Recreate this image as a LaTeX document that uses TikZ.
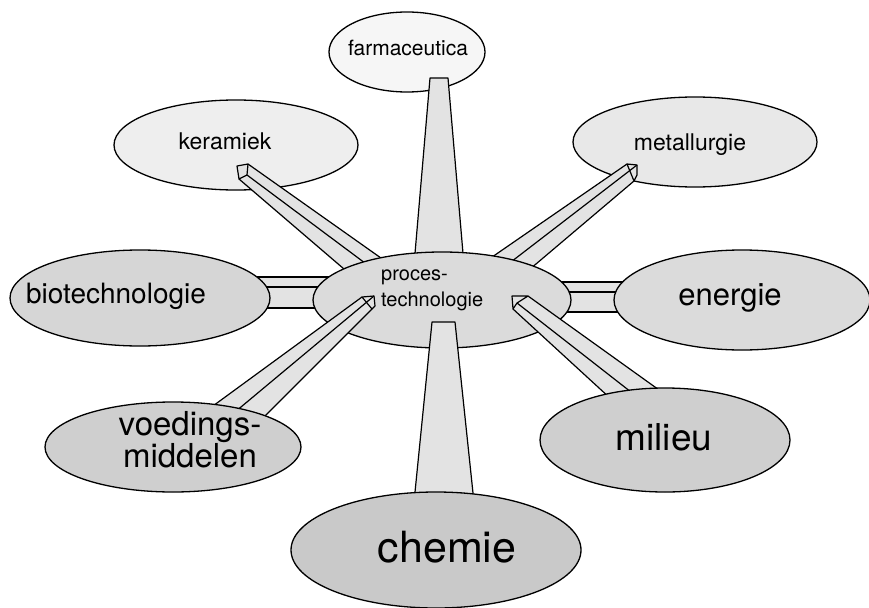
\documentclass[tikz,border=0pt]{standalone}
\usepackage{fontspec}
\setmainfont{TeX Gyre Heros}
\usetikzlibrary{shapes.geometric}
\begin{document}
\begin{tikzpicture}[x=1pt,y=-1pt,
  blob/.style={ellipse, draw=black, line width=1.3pt, inner sep=0pt},
  barface/.style={draw=black, line width=1.2pt, line join=round, fill=gray!22},
  barline/.style={draw=black, line width=1.2pt},
  lab/.style={inner sep=0pt, text=black}]
\useasboundingbox (0,0) rectangle (869,607);

% --- outer ellipses behind the bars (upper ring)
\node[blob, fill=gray!7,  minimum width=156pt, minimum height=80pt] (farma) at (407,52) {};
\node[blob, fill=gray!13, minimum width=244pt, minimum height=90pt] (kera) at (236,145) {};
\node[blob, fill=gray!18, minimum width=244pt, minimum height=90pt] (metal) at (695,142) {};

% --- bars whose far end hides behind the centre
% farmaceutica
\filldraw[barface] (430,78) -- (448,78) -- (464,265) -- (414,265) -- cycle;
% keramiek
\coordinate (ka) at (237,166); \coordinate (kb) at (248,164);
\coordinate (kc) at (247,175); \coordinate (kd) at (239,179);
\coordinate (kqb) at (405,275); \coordinate (kqc) at (381,275); \coordinate (kqd) at (351,275);
\fill[gray!22] (ka) -- (kb) -- (kqb) -- (kqd) -- (kd) -- cycle;
\draw[barline] (kb) -- (kqb) (kc) -- (kqc) (kd) -- (kqd);
\draw[barline, line join=round] (ka) -- (kb) -- (kc) -- (kd) -- cycle;
% metallurgie
\coordinate (ma) at (627,164); \coordinate (mb) at (637,165);
\coordinate (mc) at (637,175); \coordinate (md) at (634,181);
\coordinate (mqa) at (466,275); \coordinate (mqb) at (494,275); \coordinate (mqd) at (523,275);
\fill[gray!22] (ma) -- (mb) -- (mc) -- (md) -- (mqd) -- (mqa) -- cycle;
\draw[barline] (ma) -- (mqa) (mb) -- (mqb) (md) -- (mqd);
\draw[barline, line join=round] (ma) -- (mb) -- (mc) -- (md) -- cycle;
% biotechnologie
\filldraw[barface] (250,277) rectangle (330,308);
\draw[barline] (250,287) -- (330,287);
% energie
\filldraw[barface] (555,282) rectangle (632,312);
\draw[barline] (555,292) -- (632,292);

% --- centre
\node[blob, fill=gray!28, minimum width=258pt, minimum height=96pt] (proc) at (442,300) {};

% --- bars whose cap lies on the centre
% chemie
\filldraw[barface] (432,322) -- (455,322) -- (475,512) -- (413,512) -- cycle;
% voedingsmiddelen
\coordinate (va) at (362,297); \coordinate (vb) at (374,296);
\coordinate (vd) at (375,306); \coordinate (vc) at (372,309);
\coordinate (vqa) at (191,422); \coordinate (vqb) at (223,422); \coordinate (vqd) at (259,422);
\fill[gray!22] (va) -- (vb) -- (vd) -- (vc) -- (vqd) -- (vqa) -- cycle;
\draw[barline] (va) -- (vqa) (vb) -- (vqb) (vc) -- (vqd);
\draw[barline, line join=round] (va) -- (vb) -- (vd) -- (vc) -- cycle;
% milieu
\coordinate (la) at (512,296); \coordinate (lb) at (528,296);
\coordinate (lc) at (517,303); \coordinate (ld) at (513,309);
\coordinate (lqb) at (687,410); \coordinate (lqc) at (654,410); \coordinate (lqd) at (623,410);
\fill[gray!22] (la) -- (lb) -- (lqb) -- (lqd) -- (ld) -- cycle;
\draw[barline] (lb) -- (lqb) (lc) -- (lqc) (ld) -- (lqd);
\draw[barline, line join=round] (la) -- (lb) -- (lc) -- (ld) -- cycle;

% --- outer ellipses in front of the bars
\node[blob, fill=gray!32, minimum width=260pt, minimum height=96pt] (bio) at (140,298) {};
\node[blob, fill=gray!28, minimum width=256pt, minimum height=100pt] (ener) at (742,300) {};
\node[blob, fill=gray!38, minimum width=256pt, minimum height=90pt] (voed) at (173,447) {};
\node[blob, fill=gray!38, minimum width=250pt, minimum height=104pt] (mil) at (665,440) {};
\node[blob, fill=gray!42, minimum width=290pt, minimum height=116pt] (chem) at (436,550) {};

% --- labels
\node[lab, font=\fontsize{21}{24}\selectfont] (tfarma) at (408,48) {farmaceutica};
\node[lab, font=\fontsize{23}{26}\selectfont] (tkera) at (225,141) {keramiek};
\node[lab, font=\fontsize{23}{26}\selectfont] (tmetal) at (690,145) {metallurgie};
\node[lab, font=\fontsize{28}{30}\selectfont] (tbio) at (116,296) {biotechnologie};
\node[lab, font=\fontsize{31}{32}\selectfont] (tener) at (730,298) {energie};
\node[lab, font=\fontsize{20}{26}\selectfont, align=left, anchor=west] (tproc) at (381,290) {proces-\\technologie};
\node[lab, font=\fontsize{33}{29}\selectfont, align=center] (tvoed) at (190,440) {voedings-\\middelen};
\node[lab, font=\fontsize{37}{38}\selectfont] (tmil) at (664,437) {milieu};
\node[lab, font=\fontsize{43}{46}\selectfont] (tchem) at (447,547) {chemie};
\end{tikzpicture}
\end{document}
